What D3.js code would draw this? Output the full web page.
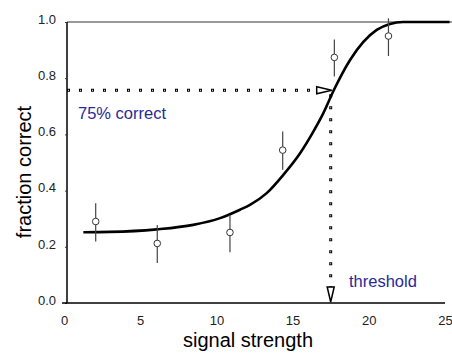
<!DOCTYPE html>
<html>
<head>
<meta charset="utf-8">
<script src="https://cdn.jsdelivr.net/npm/d3@7"></script>
<style>
body { margin: 0; background: #fff; }
text { font-family: "Liberation Sans", Arial, sans-serif; }
</style>
</head>
<body>
<div class="chart"></div>
<script>
// values
var xTicks = [0, 5, 10, 15, 20, 25]
var yTicks = [0, 0.2, 0.4, 0.6, 0.8, 1.0]

var obsX = [2.08, 6.12, 10.89, 14.35, 17.74, 21.29]
var obsY = [0.290, 0.212, 0.251, 0.544, 0.874, 0.950]
var errLo = [0.219, 0.142, 0.181, 0.474, 0.806, 0.879]
var errHi = [0.355, 0.278, 0.314, 0.610, 0.938, 1.013]

var fitX = [1.27, 3.0, 6.08, 8.48, 10.24, 11.55, 12.2, 13.3, 14.39, 15.49, 16.36, 17.01, 17.7, 18.77, 20.52, 21.39, 22.24, 25.3]
var fitY = [0.252, 0.253, 0.262, 0.278, 0.302, 0.332, 0.349, 0.391, 0.456, 0.533, 0.610, 0.675, 0.757, 0.865, 0.972, 0.993, 1.0, 1.0]

var thresholdX = 17.5
var thresholdLevel = 0.757

var width = 452
var height = 354

var svg = d3.select('.chart')
    .append('svg')
    .attr('width', width)
    .attr('height', height)

var xScale = d3.scaleLinear()
    .domain([0, 25])
    .range([64, 445])

var yScale = d3.scaleLinear()
    .domain([0, 1])
    .range([303, 22])

// frame: grey top line, black left + bottom axes
svg.append('line')
    .attr('x1', 67).attr('x2', 452)
    .attr('y1', yScale(1)).attr('y2', yScale(1))
    .attr('stroke', '#777').attr('stroke-width', 1.5)

// y axis
var yAxis = d3.axisLeft(yScale)
    .tickValues(yTicks)
    .tickFormat(d3.format('.1f'))
    .tickSize(2)
    .tickPadding(9)
var gy = svg.append('g')
    .attr('transform', 'translate(67,0)')
    .call(yAxis)
gy.select('.domain').attr('stroke', '#000').attr('stroke-width', 1.5)
    .attr('d', 'M0,' + yScale(1) + 'V' + yScale(0))
gy.selectAll('.tick line').attr('stroke', '#333').attr('stroke-width', 1)
gy.selectAll('.tick text')
    .attr('font-size', 13)
    .attr('fill', '#222')
    .attr('dy', '0.1em')

// x axis
var xAxis = d3.axisBottom(xScale)
    .tickValues(xTicks)
    .tickSize(0)
    .tickPadding(13)
var gx = svg.append('g')
    .attr('transform', 'translate(0,' + yScale(0) + ')')
    .call(xAxis)
gx.select('.domain').attr('stroke', '#000').attr('stroke-width', 1.5)
    .attr('d', 'M62,0H' + xScale(25))
gx.selectAll('.tick text')
    .attr('font-size', 13)
    .attr('fill', '#222')

// axis titles
svg.append('text')
    .attr('x', 248)
    .attr('y', 347)
    .attr('text-anchor', 'middle')
    .attr('font-size', 20)
    .text('signal strength')

svg.append('text')
    .attr('transform', 'translate(31,172) rotate(-90)')
    .attr('text-anchor', 'middle')
    .attr('font-size', 20)
    .text('fraction correct')

// dotted threshold guides: black squares with a white centre
function dotted(x1, y1, x2, y2) {
    svg.append('line')
        .attr('x1', x1).attr('y1', y1).attr('x2', x2).attr('y2', y2)
        .attr('stroke', '#000').attr('stroke-width', 3)
        .attr('stroke-dasharray', '3,9')
    svg.append('line')
        .attr('x1', x1).attr('y1', y1).attr('x2', x2).attr('y2', y2)
        .attr('stroke', '#fff').attr('stroke-width', 1)
        .attr('stroke-dasharray', '0,1,1,10')
}
var ty = yScale(thresholdLevel)
var tx = xScale(thresholdX)
dotted(67, ty, tx - 12, ty)
dotted(tx, ty + 4, tx, yScale(0) - 16)

// arrow heads (open triangles)
svg.append('path')
    .attr('d', 'M' + (tx - 14) + ',' + (ty - 3.5) + 'L' + (tx + 1) + ',' + ty + 'L' + (tx - 14) + ',' + (ty + 3.5) + 'Z')
    .attr('fill', '#fff').attr('stroke', '#000').attr('stroke-width', 1.5)
svg.append('path')
    .attr('d', 'M' + (tx - 3.5) + ',' + (yScale(0) - 16) + 'L' + tx + ',' + (yScale(0) - 1) + 'L' + (tx + 3.5) + ',' + (yScale(0) - 16) + 'Z')
    .attr('fill', '#fff').attr('stroke', '#000').attr('stroke-width', 1.5)

// fitted curve
var fit = fitX.map(function (d, i) { return [d, fitY[i]] })
var line = d3.line()
    .x(function (d) { return xScale(d[0]) })
    .y(function (d) { return yScale(d[1]) })
    .curve(d3.curveMonotoneX)
svg.append('path')
    .datum(fit)
    .attr('d', line)
    .attr('fill', 'none')
    .attr('stroke', '#000')
    .attr('stroke-width', 2.6)

// observations with error bars
var obs = obsX.map(function (d, i) {
    return {x: d, y: obsY[i], lo: errLo[i], hi: errHi[i]}
})
svg.selectAll('.err')
    .data(obs)
    .enter()
    .append('line')
    .attr('class', 'err')
    .attr('x1', function (d) { return xScale(d.x) })
    .attr('x2', function (d) { return xScale(d.x) })
    .attr('y1', function (d) { return yScale(d.lo) })
    .attr('y2', function (d) { return yScale(d.hi) })
    .attr('stroke', '#444')
    .attr('stroke-width', 1.2)
svg.selectAll('.pt')
    .data(obs)
    .enter()
    .append('circle')
    .attr('class', 'pt')
    .attr('cx', function (d) { return xScale(d.x) })
    .attr('cy', function (d) { return yScale(d.y) })
    .attr('r', 3.3)
    .attr('fill', '#fff')
    .attr('stroke', '#333')
    .attr('stroke-width', 1)

// annotations
svg.append('text')
    .attr('x', 78)
    .attr('y', 119)
    .attr('font-size', 16.5)
    .attr('fill', '#2a2a96')
    .text('75% correct')

svg.append('text')
    .attr('x', 349)
    .attr('y', 287)
    .attr('font-size', 16.5)
    .attr('fill', '#2a2a96')
    .text('threshold')
</script>
</body>
</html>
